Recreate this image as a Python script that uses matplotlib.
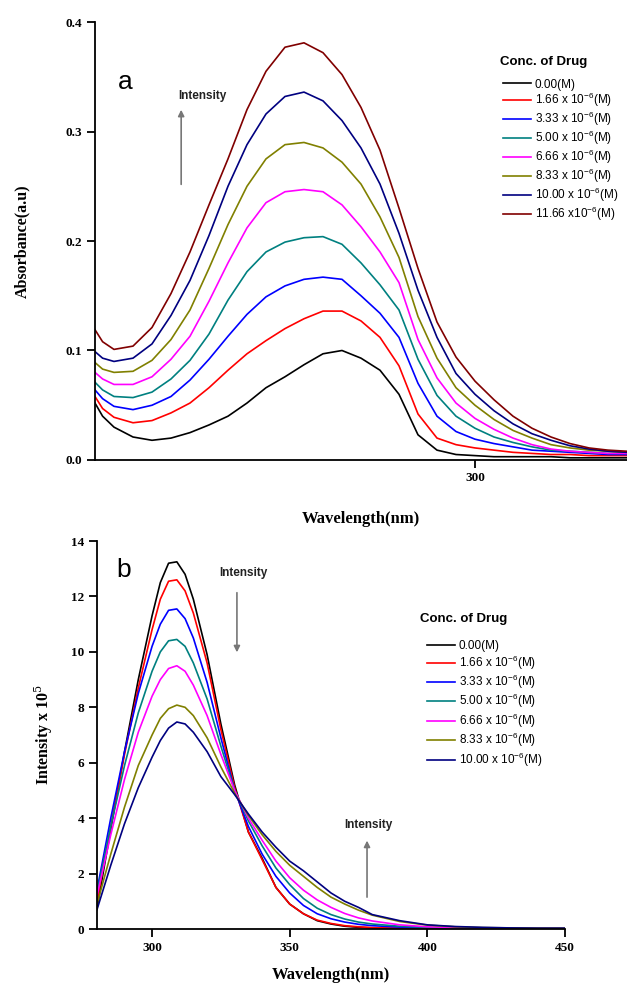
"""UV absorbance (a) and fluorescence (b) titration spectra."""

import matplotlib

matplotlib.use("Agg")

import matplotlib.pyplot as plt

plt.rcParams["mathtext.fontset"] = "custom"
plt.rcParams["mathtext.rm"] = "Liberation Sans"
plt.rcParams["mathtext.it"] = "Liberation Sans"

SERIF = "Liberation Serif"
SANS = "Liberation Sans"

COLORS_A = ["#000000", "#ff0000", "#0000ff", "#008080", "#ff00ff", "#808000", "#000080", "#800000"]
LABELS_A = [
    "0.00(M)",
    "1.66 x 10$^{-6}$(M)",
    "3.33 x 10$^{-6}$(M)",
    "5.00 x 10$^{-6}$(M)",
    "6.66 x 10$^{-6}$(M)",
    "8.33 x 10$^{-6}$(M)",
    "10.00 x 10$^{-6}$(M)",
    "11.66 x10$^{-6}$(M)",
]

# panel a: absorbance
wl_a = [200, 202, 205, 210, 215, 220, 225, 230, 235, 240, 245, 250, 255, 260, 265,
        270, 275, 280, 285, 290, 295, 300, 305, 310, 315, 320, 325, 330, 335, 340]
abs_0 = [0.052, 0.040, 0.030, 0.021, 0.018, 0.020, 0.025, 0.032, 0.040, 0.052, 0.066, 0.076, 0.087, 0.097, 0.100,
         0.093, 0.082, 0.060, 0.023, 0.009, 0.005, 0.004, 0.003, 0.003, 0.003, 0.003, 0.002, 0.002, 0.002, 0.002]
abs_1 = [0.058, 0.047, 0.039, 0.034, 0.036, 0.043, 0.052, 0.066, 0.082, 0.097, 0.109, 0.120, 0.129, 0.136, 0.136,
         0.127, 0.112, 0.086, 0.042, 0.020, 0.014, 0.011, 0.009, 0.007, 0.006, 0.005, 0.005, 0.004, 0.004, 0.004]
abs_2 = [0.064, 0.056, 0.049, 0.046, 0.050, 0.058, 0.073, 0.092, 0.113, 0.133, 0.149, 0.159, 0.165, 0.167, 0.165,
         0.150, 0.134, 0.112, 0.070, 0.040, 0.026, 0.019, 0.015, 0.012, 0.009, 0.008, 0.007, 0.006, 0.005, 0.005]
abs_3 = [0.071, 0.064, 0.058, 0.057, 0.062, 0.074, 0.091, 0.115, 0.146, 0.172, 0.190, 0.199, 0.203, 0.204, 0.197,
         0.180, 0.160, 0.137, 0.092, 0.059, 0.040, 0.029, 0.021, 0.016, 0.012, 0.009, 0.008, 0.007, 0.006, 0.006]
abs_4 = [0.080, 0.074, 0.069, 0.069, 0.076, 0.092, 0.113, 0.145, 0.180, 0.212, 0.235, 0.245, 0.247, 0.245, 0.233,
         0.213, 0.190, 0.162, 0.110, 0.075, 0.052, 0.038, 0.028, 0.020, 0.014, 0.010, 0.008, 0.007, 0.006, 0.006]
abs_5 = [0.089, 0.083, 0.080, 0.081, 0.091, 0.110, 0.137, 0.175, 0.215, 0.250, 0.275, 0.288, 0.290, 0.285, 0.272,
         0.252, 0.222, 0.185, 0.131, 0.093, 0.066, 0.050, 0.037, 0.027, 0.020, 0.014, 0.011, 0.009, 0.008, 0.007]
abs_6 = [0.099, 0.093, 0.090, 0.093, 0.106, 0.132, 0.164, 0.205, 0.250, 0.288, 0.316, 0.332, 0.336, 0.328, 0.310,
         0.285, 0.252, 0.207, 0.155, 0.112, 0.079, 0.060, 0.045, 0.033, 0.024, 0.018, 0.013, 0.010, 0.008, 0.007]
abs_7 = [0.119, 0.108, 0.101, 0.104, 0.121, 0.152, 0.190, 0.233, 0.275, 0.320, 0.355, 0.377, 0.381, 0.372, 0.352,
         0.322, 0.283, 0.230, 0.175, 0.126, 0.094, 0.072, 0.055, 0.040, 0.029, 0.021, 0.015, 0.011, 0.009, 0.008]
SERIES_A = [abs_0, abs_1, abs_2, abs_3, abs_4, abs_5, abs_6, abs_7]

# panel b: fluorescence
wl_b = [280, 285, 290, 295, 300, 303, 306, 309, 312, 315, 320, 325, 330, 335, 340,
        345, 350, 355, 360, 365, 370, 375, 380, 390, 400, 410, 420, 430, 440, 450]
fl_0 = [0.75, 3.6, 6.4, 9.0, 11.3, 12.5, 13.2, 13.25, 12.8, 11.9, 9.9, 7.4, 5.2, 3.5, 2.55,
        1.5, 0.9, 0.55, 0.30, 0.18, 0.10, 0.06, 0.04, 0.02, 0.01, 0.01, 0.01, 0.0, 0.0, 0.0]
fl_1 = [1.0, 3.7, 6.3, 8.7, 10.8, 11.9, 12.55, 12.6, 12.2, 11.4, 9.6, 7.2, 5.1, 3.5, 2.5,
        1.5, 0.9, 0.55, 0.32, 0.20, 0.12, 0.08, 0.05, 0.03, 0.02, 0.01, 0.01, 0.01, 0.0, 0.0]
fl_2 = [1.4, 4.0, 6.4, 8.5, 10.2, 11.0, 11.5, 11.55, 11.2, 10.5, 8.9, 6.9, 5.0, 3.7, 2.7,
        1.9, 1.3, 0.85, 0.55, 0.37, 0.25, 0.17, 0.12, 0.07, 0.04, 0.03, 0.02, 0.01, 0.01, 0.01]
fl_3 = [1.3, 3.7, 5.9, 7.8, 9.3, 10.0, 10.4, 10.45, 10.2, 9.6, 8.3, 6.6, 5.0, 3.9, 3.0,
        2.2, 1.6, 1.1, 0.75, 0.52, 0.36, 0.25, 0.18, 0.10, 0.06, 0.04, 0.03, 0.02, 0.02, 0.01]
fl_4 = [1.2, 3.4, 5.4, 7.1, 8.4, 9.0, 9.4, 9.5, 9.3, 8.8, 7.7, 6.3, 5.0, 4.0, 3.2,
        2.45, 1.85, 1.4, 1.05, 0.78, 0.56, 0.40, 0.29, 0.15, 0.08, 0.05, 0.04, 0.03, 0.02, 0.02]
fl_5 = [0.9, 2.7, 4.4, 5.9, 7.0, 7.6, 7.95, 8.08, 8.0, 7.7, 6.9, 5.85, 4.9, 4.1, 3.4,
        2.8, 2.3, 1.9, 1.5, 1.15, 0.90, 0.68, 0.50, 0.27, 0.14, 0.08, 0.05, 0.04, 0.03, 0.03]
fl_6 = [0.7, 2.3, 3.8, 5.1, 6.2, 6.8, 7.25, 7.47, 7.4, 7.1, 6.4, 5.5, 4.85, 4.15, 3.5,
        2.95, 2.45, 2.1, 1.7, 1.3, 1.0, 0.78, 0.52, 0.30, 0.15, 0.09, 0.06, 0.04, 0.03, 0.03]
SERIES_B = [fl_0, fl_1, fl_2, fl_3, fl_4, fl_5, fl_6]


def _style_axes(ax):
    for side in ("top", "right"):
        ax.spines[side].set_visible(False)
    for side in ("left", "bottom"):
        ax.spines[side].set_linewidth(1.3)
    ax.tick_params(direction="out", length=6, width=1.3, labelsize=9.5, pad=3)
    for lbl in ax.get_xticklabels() + ax.get_yticklabels():
        lbl.set_fontfamily(SERIF)
        lbl.set_fontweight("bold")


def _legend(ax, handles, title_xy, anchor, spacing):
    ax.text(title_xy[0], title_xy[1], "Conc. of Drug", transform=ax.transAxes, family=SANS,
            fontweight="bold", fontsize=9.5, ha="left", va="center")
    ax.legend(
        handles=handles,
        loc="upper left",
        bbox_to_anchor=anchor,
        frameon=False,
        prop={"family": SANS, "size": 8.5},
        handlelength=2.4,
        handletextpad=0.3,
        labelspacing=spacing,
        borderaxespad=0.0,
        borderpad=0.0,
    )


def _arrow(ax, x, y0, y1):
    ax.annotate(
        "",
        xy=(x, y1),
        xytext=(x, y0),
        xycoords="axes fraction",
        arrowprops={"arrowstyle": "-|>", "color": "#777777", "lw": 1.2, "mutation_scale": 9},
    )


def _note(ax, x, y, ha="center"):
    ax.text(x, y, "Intensity", transform=ax.transAxes, fontsize=8.5, fontweight="bold",
            family=SANS, color="#222222", ha=ha, va="center")


fig = plt.figure(figsize=(6.27, 9.92), dpi=100)

# ---- panel a
ax_a = fig.add_axes([0.1515, 0.5363, 0.8485, 0.4415])
lines_a = []
for y, c, lab in zip(SERIES_A, COLORS_A, LABELS_A):
    (ln,) = ax_a.plot(wl_a, y, color=c, lw=1.2, label=lab)
    lines_a.append(ln)
ax_a.set_xlim(200, 340)
ax_a.set_ylim(0, 0.4)
ax_a.set_xticks([300])
ax_a.set_yticks([0.0, 0.1, 0.2, 0.3, 0.4])
ax_a.set_yticklabels(["0.0", "0.1", "0.2", "0.3", "0.4"])
_style_axes(ax_a)
ax_a.set_xlabel("Wavelength(nm)", family=SERIF, fontweight="bold", fontsize=12, labelpad=19)
ax_a.set_ylabel("Absorbance(a.u)", family=SERIF, fontweight="bold", fontsize=11.5, labelpad=26)
ax_a.text(0.056, 0.863, "a", transform=ax_a.transAxes, fontsize=19, family=SANS, ha="center", va="center")
_arrow(ax_a, 0.162, 0.623, 0.806)
_note(ax_a, 0.157, 0.831, ha="left")
_legend(ax_a, lines_a, (0.761, 0.909), (0.767, 0.871), 0.06)

# ---- panel b
ax_b = fig.add_axes([0.1547, 0.0635, 0.7464, 0.3911])
lines_b = []
for y, c, lab in zip(SERIES_B, COLORS_A, LABELS_A):
    (ln,) = ax_b.plot(wl_b, y, color=c, lw=1.2, label=lab)
    lines_b.append(ln)
ax_b.set_xlim(280, 450)
ax_b.set_ylim(0, 14)
ax_b.set_xticks([300, 350, 400, 450])
ax_b.set_yticks(range(0, 15, 2))
_style_axes(ax_b)
ax_b.set_xlabel("Wavelength(nm)", family=SERIF, fontweight="bold", fontsize=12, labelpad=10)
ax_b.set_ylabel("Intensity x 10$^5$", family=SERIF, fontweight="bold", fontsize=11.5, labelpad=12)
ax_b.yaxis.label.set_math_fontfamily("dejavuserif")
ax_b.text(0.058, 0.925, "b", transform=ax_b.transAxes, fontsize=19, family=SANS, ha="center", va="center")
_arrow(ax_b, 0.299, 0.874, 0.706)
_note(ax_b, 0.312, 0.918)
_arrow(ax_b, 0.577, 0.075, 0.235)
_note(ax_b, 0.579, 0.268)
_legend(ax_b, lines_b, (0.690, 0.799), (0.705, 0.744), 0.1)

fig.savefig("out.png", dpi=100)
